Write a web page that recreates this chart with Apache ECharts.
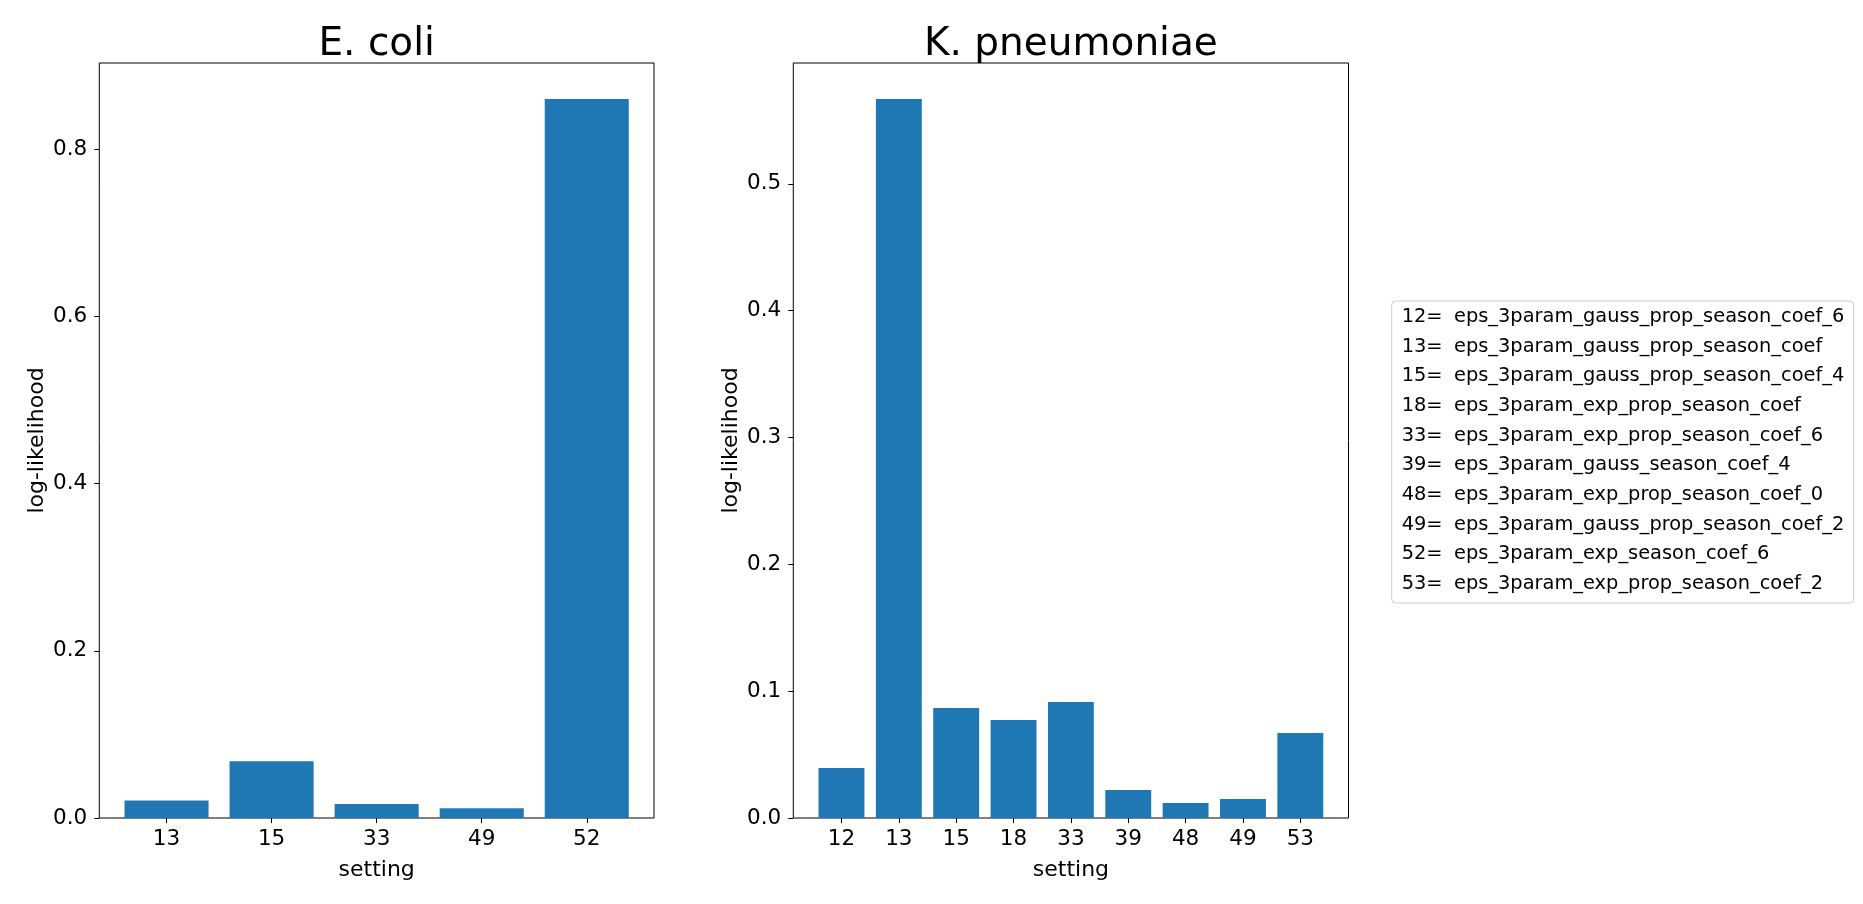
<!DOCTYPE html>
<html><head><meta charset="utf-8">
<script src="https://cdn.jsdelivr.net/npm/echarts@6/dist/echarts.min.js"></script>
<style>html,body{margin:0;padding:0;background:#fff}#c{width:1863px;height:904px}</style>
</head><body><div id="c"></div>
<script>
// ---- data ----
const ecoliSettings = ['13', '15', '33', '49', '52'];
const ecoliValues = [0.021, 0.068, 0.0167, 0.0118, 0.86];
const kpnSettings = ['12', '13', '15', '18', '33', '39', '48', '49', '53'];
const kpnValues = [0.0394, 0.567, 0.0868, 0.0773, 0.0915, 0.0221, 0.0118, 0.015, 0.067];
const ecoliYTicks = [0, 0.2, 0.4, 0.6, 0.8];
const kpnYTicks = [0, 0.1, 0.2, 0.3, 0.4, 0.5];
const panelTitles = ['E. coli', 'K. pneumoniae'];
const legendKeys = ['12=', '13=', '15=', '18=', '33=', '39=', '48=', '49=', '52=', '53='];
const legendNames = [
  'eps_3param_gauss_prop_season_coef_6',
  'eps_3param_gauss_prop_season_coef',
  'eps_3param_gauss_prop_season_coef_4',
  'eps_3param_exp_prop_season_coef',
  'eps_3param_exp_prop_season_coef_6',
  'eps_3param_gauss_season_coef_4',
  'eps_3param_exp_prop_season_coef_0',
  'eps_3param_gauss_prop_season_coef_2',
  'eps_3param_exp_season_coef_6',
  'eps_3param_exp_prop_season_coef_2'
];

// ---- layout ----
const FONT = '"DejaVu Sans", sans-serif';
const BLUE = '#1f77b4';
const grids = [
  { left: 99.3, top: 63, width: 554.7, height: 755 },
  { left: 793.3, top: 63, width: 555.2, height: 755 }
];
const panels = [
  { cats: ecoliSettings, vals: ecoliValues, yt: ecoliYTicks },
  { cats: kpnSettings, vals: kpnValues, yt: kpnYTicks }
];

const xAxes = [], yAxes = [], series = [], graphics = [];
panels.forEach((p, k) => {
  const n = p.cats.length;
  const span = n - 0.2;
  const xmin = -0.4 - 0.05 * span, xmax = n - 1 + 0.4 + 0.05 * span;
  const ymax = Math.max(...p.vals) * 1.05;
  const unitPx = grids[k].width / (xmax - xmin);
  const idx = p.cats.map((_, i) => i);
  xAxes.push({
    type: 'value', gridIndex: k, min: xmin, max: xmax,
    splitLine: { show: false },
    axisLine: { show: false, onZero: false },
    axisTick: { show: true, length: 5, lineStyle: { color: '#000', width: 1 }, customValues: idx },
    axisLabel: { color: '#000', fontSize: 21.5, fontFamily: FONT, margin: 10, customValues: idx,
      formatter: v => p.cats[Math.round(v)] },
    name: 'setting', nameLocation: 'middle', nameGap: 41,
    nameTextStyle: { color: '#000', fontSize: 22, fontFamily: FONT }
  });
  yAxes.push({
    type: 'value', gridIndex: k, min: 0, max: ymax,
    splitLine: { show: false },
    axisLine: { show: false, onZero: false },
    axisTick: { show: true, length: 5, lineStyle: { color: '#000', width: 1 }, customValues: p.yt },
    axisLabel: { color: '#000', fontSize: 21.5, fontFamily: FONT, margin: 12, customValues: p.yt,
      formatter: v => v.toFixed(1) },
    name: 'log-likelihood', nameLocation: 'middle', nameGap: 51, nameRotate: 90,
    nameTextStyle: { color: '#000', fontSize: 22, fontFamily: FONT }
  });
  series.push({
    type: 'bar', xAxisIndex: k, yAxisIndex: k,
    data: p.vals.map((v, i) => [i, v]),
    barWidth: unitPx * 0.8,
    itemStyle: { color: BLUE },
    emphasis: { disabled: true }
  });
  graphics.push({
    type: 'text', x: grids[k].left + grids[k].width / 2, y: 45,
    style: { text: panelTitles[k], fill: '#000', font: '39px ' + FONT, align: 'center', verticalAlign: 'middle' }
  });
});

// legend box
const lgX = 1391.7, lgY = 301, lgW = 462, lgH = 302;
graphics.push({
  type: 'rect', shape: { x: lgX, y: lgY, width: lgW, height: lgH, r: 4 },
  style: { fill: 'rgba(255,255,255,0.8)', stroke: '#cccccc', lineWidth: 1 }
});
legendKeys.forEach((key, i) => {
  const y = 317 + i * 29.67;
  graphics.push({ type: 'text', x: 1401.7, y: y,
    style: { text: key, fill: '#000', font: '19.4px ' + FONT, align: 'left', verticalAlign: 'middle' } });
  graphics.push({ type: 'text', x: 1454, y: y,
    style: { text: legendNames[i], fill: '#000', font: '19.4px ' + FONT, align: 'left', verticalAlign: 'middle' } });
});

const chart = echarts.init(document.getElementById('c'));
chart.setOption({
  animation: false,
  backgroundColor: '#fff',
  grid: grids.map(g => Object.assign({ show: true, borderColor: '#000', borderWidth: 1, backgroundColor: 'transparent' }, g)),
  xAxis: xAxes,
  yAxis: yAxes,
  series: series,
  graphic: graphics
});
</script></body></html>
